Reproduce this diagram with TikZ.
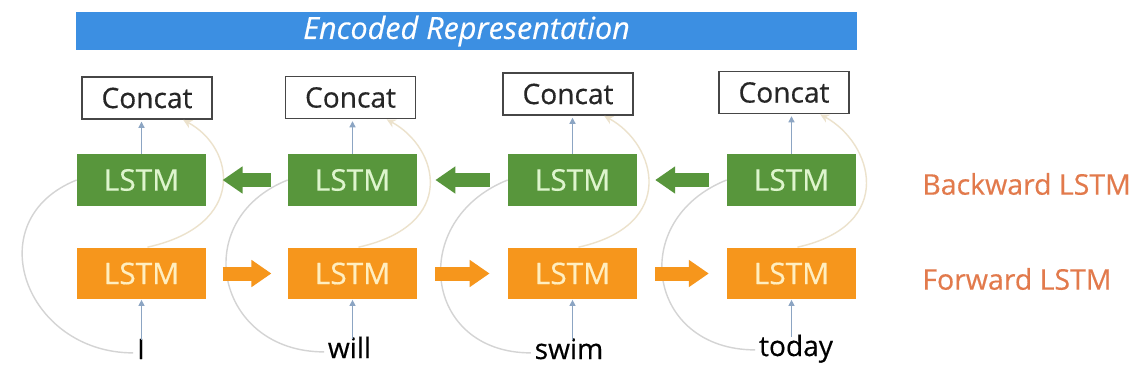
\documentclass[tikz,border=0pt]{standalone}
\usepackage{fontspec}
\setmainfont{Open Sans}[FakeBold=0.4]
\usetikzlibrary{arrows.meta, positioning, calc}
\definecolor{BarBlue}{RGB}{60,143,226}
\definecolor{LstmGreen}{RGB}{88,150,60}
\definecolor{LstmOrange}{RGB}{246,150,28}
\definecolor{GreenText}{RGB}{222,245,205}
\definecolor{OrangeText}{RGB}{255,238,192}
\definecolor{SideOrange}{RGB}{226,122,76}
\definecolor{ConcatGray}{RGB}{70,70,70}
\definecolor{ArrowBlue}{RGB}{140,165,195}
\definecolor{CurveGray}{RGB}{212,212,212}
\definecolor{CurveBeige}{RGB}{236,226,204}
\newcommand{\labfont}[1]{\fontsize{#1}{1.2\dimexpr#1\relax}\selectfont}
\tikzset{
  concatbox/.style={draw=ConcatGray, line width=1.1pt, fill=white, text=black!85,
    minimum width=2.6cm, minimum height=0.84cm, inner sep=0pt, font=\labfont{16pt}},
  lstmbox/.style={minimum width=2.58cm, minimum height=1.04cm, inner sep=0pt, font=\labfont{17pt}},
  wordnode/.style={anchor=base, inner sep=2pt, text height=1.6ex, text depth=0.3ex, font=\labfont{16pt}},
  thinarrow/.style={ArrowBlue, line width=0.6pt, -{Triangle[length=3.5pt, width=3.5pt]}},
  backcurve/.style={CurveGray, line width=0.8pt},
  forwcurve/.style={CurveBeige, line width=0.8pt, -{Stealth[length=5pt, width=5pt]}},
  blockarrow/.style={line width=0.28cm, -{Triangle[length=0.4cm, width=0.52cm]}},
  sidelabel/.style={anchor=west, inner sep=0pt, text=SideOrange, font=\labfont{16.2pt}}
}

\begin{document}
\begin{tikzpicture}[x=0.02cm, y=0.02cm]
\useasboundingbox[fill=white] (0,0) rectangle (1136,386);

% ================= ENCODED REPRESENTATION =================
\node[fill=BarBlue, minimum width=15.62cm, minimum height=0.76cm, inner sep=0pt,
      text=white, font=\labfont{17.4pt}\itshape] (enc) at (466.5,355) {Encoded Representation};

% ================= COLUMNS =================
\foreach \i/\x/\cx/\cy in {1/141.5/147/288, 2/352.5/350.5/288.5, 3/572.5/568/292, 4/791.5/784/293.5} {
  \node[concatbox] (C-\i) at (\cx,\cy) {Concat};
  \node[lstmbox, fill=LstmGreen, text=GreenText] (B-\i) at (\x,206) {LSTM};
  \node[lstmbox, fill=LstmOrange, text=OrangeText] (F-\i) at (\x,112.5) {LSTM};
}
% input words
\foreach \i/\x/\y/\w in {1/141/27/I, 2/349.5/28/will, 3/569/27/swim, 4/796/30/today}
  \node[wordnode] (W-\i) at (\x,\y) {\w};

% ================= CONNECTIONS =================
\foreach \i in {1,...,4} {
  \draw[thinarrow] (F-\i.south |- W-\i.north) -- (F-\i.south);
  \draw[thinarrow, shorten >=1pt] (B-\i.north) -- (B-\i.north |- C-\i.south);
  % word to backward cell
  \draw[backcurve] (W-\i.west) .. controls +(-108,0) and +(-100,-40) .. (B-\i.west);
  % forward cell to concat
  \draw[forwcurve] ($(F-\i.north)+(6,0)$) .. controls +(100,22) and +(52,-28)
    .. ($(C-\i.south)!0.55!(C-\i.south east)$);
}
% recurrent block arrows
\foreach \a/\b in {1/2,2/3,3/4} {
  \draw[blockarrow, LstmGreen] ($(B-\b.west)!0.2!(B-\a.east)$) -- ($(B-\b.west)!0.8!(B-\a.east)$);
  \draw[blockarrow, LstmOrange] ($(F-\a.east)!0.2!(F-\b.west)$) -- ($(F-\a.east)!0.8!(F-\b.west)$);
}

% side labels
\node[sidelabel] (bwlab) at (922,202) {Backward LSTM};
\node[sidelabel] (fwlab) at (922,107) {Forward LSTM};

\end{tikzpicture}
\end{document}
